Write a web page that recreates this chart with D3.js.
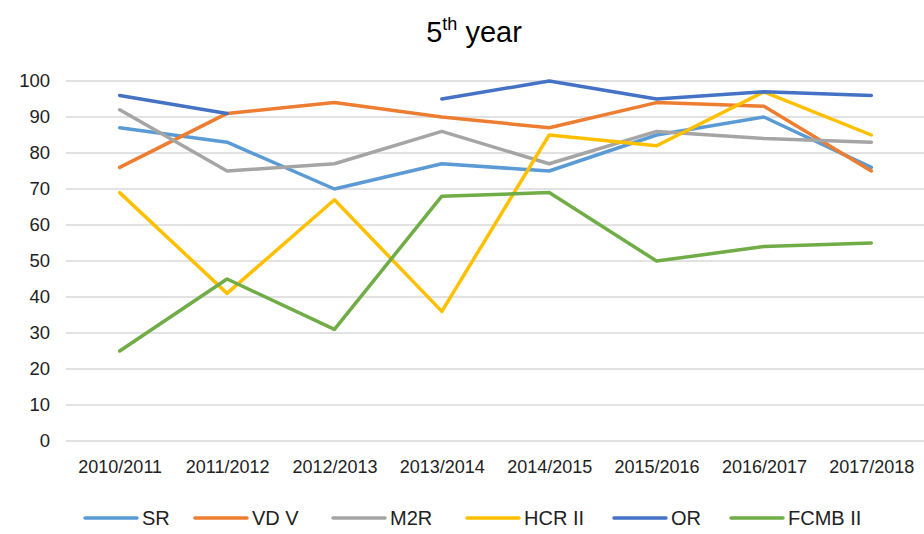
<!DOCTYPE html>
<html>
<head>
<meta charset="utf-8">
<script src="https://cdn.jsdelivr.net/npm/d3@7"></script>
<style>
  html, body { margin: 0; padding: 0; background: #fff; }
  svg { display: block; font-family: "Liberation Sans", Arial, sans-serif; }
</style>
</head>
<body>
<svg id="chart" width="924" height="534"></svg>
<script>
// Academic years on the x axis
const years = ["2010/2011", "2011/2012", "2012/2013", "2013/2014", "2014/2015", "2015/2016", "2016/2017", "2017/2018"];

// Series values (null = no data for that year)
const sr     = [87, 83, 70, 77, 75, 85, 90, 76];
const vdv    = [76, 91, 94, 90, 87, 94, 93, 75];
const m2r    = [92, 75, 77, 86, 77, 86, 84, 83];
const hcr2   = [69, 41, 67, 36, 85, 82, 97, 85];
const or     = [96, 91, null, 95, 100, 95, 97, 96];
const fcmb2  = [25, 45, 31, 68, 69, 50, 54, 55];

const seriesNames  = ["SR", "VD V", "M2R", "HCR II", "OR", "FCMB II"];
const seriesValues = [sr, vdv, m2r, hcr2, or, fcmb2];
const seriesColors = ["#5B9BD5", "#ED7D31", "#A5A5A5", "#FFC000", "#4472C4", "#70AD47"];

const yTicks = [0, 10, 20, 30, 40, 50, 60, 70, 80, 90, 100];

const svg = d3.select("#chart");
const plot = { left: 66, right: 925, top: 81, bottom: 441 };

const x = d3.scalePoint().domain(years).range([plot.left, plot.right]).padding(0.5);
const y = d3.scaleLinear().domain([0, 100]).range([plot.bottom, plot.top]);

// Title with superscript
const title = svg.append("text")
  .attr("x", 474).attr("y", 42)
  .attr("text-anchor", "middle")
  .attr("font-size", 29)
  .attr("fill", "#000");
title.append("tspan").text("5");
title.append("tspan").attr("font-size", 18).attr("dy", -12).text("th");
title.append("tspan").attr("dy", 12).text(" year");

// Horizontal gridlines
svg.append("g").selectAll("line")
  .data(yTicks)
  .join("line")
  .attr("x1", plot.left).attr("x2", plot.right)
  .attr("y1", d => y(d)).attr("y2", d => y(d))
  .attr("stroke", "#D9D9D9")
  .attr("stroke-width", 1.5);

// Y axis labels
const yAxis = d3.axisLeft(y).tickValues(yTicks).tickSize(0).tickPadding(0);
svg.append("g")
  .attr("transform", `translate(50,0)`)
  .call(yAxis)
  .call(g => g.select(".domain").remove())
  .call(g => g.selectAll("text")
    .attr("font-family", "Liberation Sans, Arial, sans-serif")
    .attr("font-size", 18.5)
    .attr("fill", "#222"));

// X axis labels
const xAxis = d3.axisBottom(x).tickSize(0).tickPadding(0);
svg.append("g")
  .attr("transform", `translate(0,${plot.bottom + 19})`)
  .call(xAxis)
  .call(g => g.select(".domain").remove())
  .call(g => g.selectAll("text")
    .attr("font-family", "Liberation Sans, Arial, sans-serif")
    .attr("font-size", 18)
    .attr("fill", "#222"));

// Lines
const line = d3.line()
  .defined(d => d.v !== null)
  .x(d => x(d.year))
  .y(d => y(d.v));

svg.append("g").selectAll("path")
  .data(seriesValues.map((vals, i) => ({ name: seriesNames[i], color: seriesColors[i], pts: vals.map((v, j) => ({ year: years[j], v })) })))
  .join("path")
  .attr("d", d => line(d.pts))
  .attr("fill", "none")
  .attr("stroke", d => d.color)
  .attr("stroke-width", 3.5)
  .attr("stroke-linejoin", "round")
  .attr("stroke-linecap", "round");

// Legend
const legendX = [85, 195, 333, 467, 614, 731];
const legend = svg.append("g").attr("transform", "translate(0,518)");
const items = legend.selectAll("g")
  .data(seriesNames.map((n, i) => ({ name: n, color: seriesColors[i], x: legendX[i] })))
  .join("g")
  .attr("transform", d => `translate(${d.x},0)`);
items.append("line")
  .attr("x1", 0).attr("x2", 52)
  .attr("y1", 0).attr("y2", 0)
  .attr("stroke", d => d.color)
  .attr("stroke-width", 3.5)
  .attr("stroke-linecap", "round");
items.append("text")
  .attr("x", 57).attr("y", 0)
  .attr("dy", "0.35em")
  .attr("font-size", 20)
  .attr("fill", "#222")
  .text(d => d.name);
</script>
</body>
</html>
